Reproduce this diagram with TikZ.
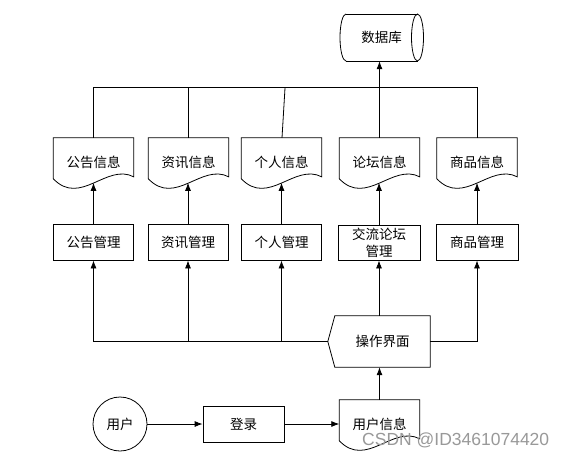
\documentclass[tikz,border=0pt]{standalone}
\usepackage{fontspec}
\setmainfont{Noto Sans CJK SC}
\newfontfamily\wmfont{Liberation Sans}
\usetikzlibrary{arrows.meta,calc}
\newcommand\docshape[4]{%
  \node[minimum width=80pt, minimum height=48pt, inner sep=0pt] (#1) at (#2,#3+24) {#4};
  \draw[ln] ($(#1.north west)+(0,41)$) -- (#1.north west) -- (#1.north east) -- ($(#1.north east)+(0,39)$)
    .. controls ($(#1.north east)+(-27,25)$) and ($(#1.north west)+(27,69)$) .. ($(#1.north west)+(0,41)$);
  \coordinate (#1-b) at ($(#1.north)+(0,45)$);
}
\begin{document}
\begin{tikzpicture}[x=1pt,y=-1pt,
  font=\fontsize{13.5}{17}\selectfont,
  ln/.style={line width=0.8pt, draw=black},
  arr/.style={ln,-{Latex[length=8pt,width=6pt]}},
  box/.style={ln, rectangle, minimum width=80pt, minimum height=36pt, inner sep=0pt, align=center}]
\fill[white] (0,0) rectangle (569,456);
\useasboundingbox (0,0) rectangle (569,456);

% database
\node[minimum width=71.5pt, minimum height=47pt, inner sep=0pt] (db) at (381.5,37.5) {数据库};
\draw[ln] (346,14) -- (417.5,14);
\draw[ln] (346,61) -- (417.5,61);
\draw[ln] (417.5,37.5) ellipse [x radius=6, y radius=23.5];
\draw[ln] (346,14) arc [start angle=270, end angle=90, x radius=6, y radius=23.5];

% info documents
\docshape{d1}{93.5}{138}{公告信息}
\docshape{d2}{188.5}{138}{资讯信息}
\docshape{d3}{281.5}{138}{个人信息}
\docshape{d4}{379.5}{138}{论坛信息}
\docshape{d5}{477}{138}{商品信息}

% management boxes
\node[box] (m1) at (93.5,242) {公告管理};
\node[box] (m2) at (188,242) {资讯管理};
\node[box] (m3) at (281.5,242) {个人管理};
\node[box, minimum width=82pt, minimum height=35pt] (m4) at (379,242.5) {交流论坛\\管理};
\node[box, minimum width=82pt] (m5) at (477,242) {商品管理};

% UI
\node[minimum width=95pt, minimum height=51pt, inner sep=0pt] (ui) at (382.5,341.5) {操作界面};
\coordinate (uitip) at ($(ui.west)+(-7,0)$);
\draw[ln] (ui.north west) -- (ui.north east) -- (ui.south east) -- (ui.south west) -- (uitip) -- cycle;

% bottom row
\node[ln, circle, minimum size=54pt, inner sep=0pt] (user) at (120,424) {用户};
\node[box, minimum width=81pt] (login) at (243.5,424) {登录};
\docshape{du}{379.5}{400}{用户信息}

% top bus
\draw[ln] (d1.north) -- ++(0,-50) -| (d5.north);
\draw[ln] (d2.north) -- (d2.north |- 0,88);
\coordinate (d3top) at (285,88);
\draw[ln] ($(d3.north)+(0.5,0)$) -- (d3top);
\draw[arr] (d4.north) -- (d4.north |- db.south);

% management -> documents
\draw[arr] (m1.north) -- (d1-b -| m1.north);
\draw[arr] (m2.north) -- (d2-b -| m2.north);
\draw[arr] (m3.north) -- (d3-b -| m3.north);
\draw[arr] (m4.north) -- (d4-b -| m4.north);
\draw[arr] (m5.north) -- (d5-b -| m5.north);

% bottom bus
\draw[arr] (uitip) -| (m1.south);
\draw[arr] (m2.south |- uitip) -- (m2.south);
\draw[arr] (m3.south |- uitip) -- (m3.south);
\draw[arr] (m4.south |- ui.north) -- (m4.south);
\draw[arr] (ui.east) -| (m5.south);
\draw[arr] (du.north) -- (du.north |- ui.south);

% bottom row connectors
\draw[arr] (user) -- (login);
\draw[arr] (login) -- (du.west |- login);

% watermark
\node[anchor=base west, text=black!40, font=\wmfont\fontsize{17.5}{20}\selectfont, inner sep=0pt] (wm) at (362,445) {CSDN @ID3461074420};
\end{tikzpicture}
\end{document}
